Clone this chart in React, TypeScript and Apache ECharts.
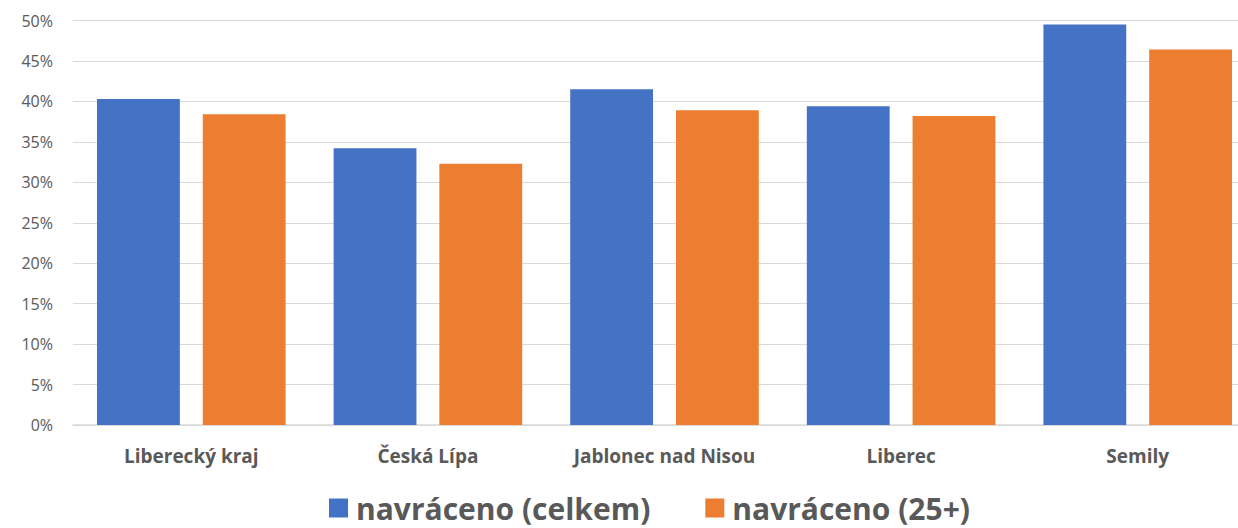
import React, { useEffect, useRef } from "react";
import * as echarts from "echarts";

const categories = ["Liberecký kraj", "Česká Lípa", "Jablonec nad Nisou", "Liberec", "Semily"];
const celkem = [40.3, 34.2, 41.5, 39.4, 49.5];
const plus25 = [38.4, 32.3, 38.9, 38.2, 46.4];
const seriesNames = ["navráceno (celkem)", "navráceno (25+)"];

export default function App() {
  const ref = useRef<HTMLDivElement>(null);
  useEffect(() => {
    document.body.style.margin = "0";
    const chart = echarts.init(ref.current!, null, { renderer: "svg" });
    chart.setOption({
      animation: false,
      textStyle: { fontFamily: "'Open Sans', sans-serif" },
      grid: { left: 73, right: 0, top: 20.5, bottom: 103, containLabel: false },
      legend: {
        bottom: 0,
        left: 324,
        itemWidth: 19,
        itemHeight: 19,
        itemGap: 55,
        icon: "rect",
        textStyle: { fontSize: 30, fontWeight: "bold", color: "#595959", fontFamily: "'Open Sans', sans-serif", padding: [0, 0, 0, 3] },
        data: seriesNames,
      },
      xAxis: {
        type: "category",
        data: categories,
        axisLine: { lineStyle: { color: "#d9d9d9", width: 1.5 } },
        axisTick: { show: false },
        axisLabel: { fontSize: 19, fontWeight: "bold", color: "#595959", margin: 21 },
      },
      yAxis: {
        type: "value",
        min: 0,
        max: 50,
        interval: 5,
        axisLabel: { formatter: "{value}%", fontSize: 16, color: "#595959", margin: 20 },
        splitLine: { lineStyle: { color: "#d9d9d9", width: 1 } },
        axisLine: { show: false },
        axisTick: { show: false },
      },
      series: [
        { name: seriesNames[0], type: "bar", data: celkem, barWidth: "35%", barGap: "27.7%", itemStyle: { color: "#4472C4" } },
        { name: seriesNames[1], type: "bar", data: plus25, barWidth: "35%", barGap: "27.7%", itemStyle: { color: "#ED7D31" } },
      ],
    });
    return () => chart.dispose();
  }, []);
  return (
    <div style={{ width: 1238, height: 528, overflow: "hidden" }}>
      <div ref={ref} style={{ width: 1256, height: 528 }} />
    </div>
  );
}
